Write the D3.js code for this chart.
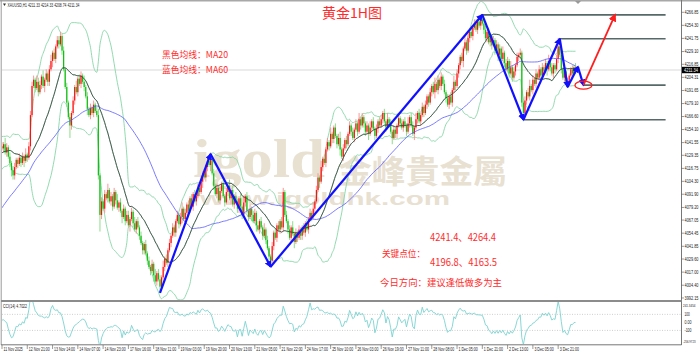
<!DOCTYPE html>
<html lang="zh">
<head>
<meta charset="UTF-8">
<title>黄金1H图</title>
<script src="https://d3js.org/d3.v7.min.js"></script>
<style>
  * { margin: 0; padding: 0 }
  body { background: #fff; }
  svg { display: block; }
</style>
</head>
<body>
<div id="main"></div>
<script>
// 左侧不可见的前置收盘价 (用于计算 MA60 / 布林带起点)
const priorCloses = [
  4002, 3998, 4005, 4010, 4003, 3996, 4001, 4008, 4004, 4000, 4006, 4012, 4009, 4003, 4007, 4011, 4005, 4000, 4004, 4009,
  4030, 4052, 4068, 4075, 4082, 4078, 4090, 4098, 4094, 4102, 4108, 4105, 4112, 4110, 4116, 4113, 4108, 4115, 4120, 4118,
  4112, 4118, 4125, 4130, 4122, 4116, 4128, 4135, 4140, 4132, 4126, 4138, 4145, 4140, 4133, 4128, 4124, 4136, 4142, 4138
];

// 1H 收盘价
const closes = [
  4136, 4140, 4132, 4137, 4128, 4122, 4115, 4110, 4118, 4125,
  4121, 4127, 4122, 4128, 4124, 4130, 4127, 4138, 4168, 4196,
  4202, 4194, 4200, 4190, 4197, 4205, 4196, 4202, 4208, 4200,
  4212, 4220, 4228, 4222, 4234, 4240, 4236, 4244, 4230, 4212,
  4195, 4180, 4166, 4158, 4170, 4182, 4195, 4190, 4203, 4198,
  4206, 4200, 4195, 4186, 4174, 4168, 4175, 4170, 4178, 4172,
  4168, 4110, 4072, 4085, 4078, 4092, 4088, 4096, 4085, 4090,
  4080, 4094, 4086, 4079, 4084, 4076, 4070, 4078, 4066, 4072,
  4062, 4068, 4075, 4064, 4058, 4066, 4060, 4052, 4045, 4038,
  4044, 4035, 4028, 4022, 4018, 4025, 4014, 4008, 4016, 4010,
  4003, 4012, 4022, 4030, 4026, 4038, 4045, 4052, 4060, 4055,
  4066, 4072, 4063, 4070, 4078, 4068, 4074, 4082, 4076, 4088,
  4080, 4092, 4085, 4090, 4098, 4094, 4104, 4112, 4108, 4118,
  4124, 4120, 4126, 4112, 4100, 4092, 4098, 4086, 4095, 4102,
  4090, 4084, 4094, 4100, 4088, 4096, 4082, 4090, 4085, 4078,
  4088, 4080, 4072, 4084, 4090, 4076, 4070, 4078, 4072, 4066,
  4074, 4062, 4058, 4066, 4060, 4052, 4058, 4048, 4040, 4032,
  4028, 4042, 4055, 4050, 4062, 4058, 4066, 4060, 4094, 4072,
  4066, 4058, 4050, 4060, 4054, 4046, 4055, 4050, 4058, 4052,
  4060, 4055, 4064, 4058, 4068, 4074, 4070, 4078, 4085, 4096,
  4108, 4104, 4118, 4126, 4122, 4135, 4142, 4138, 4150, 4145,
  4156, 4148, 4140, 4146, 4135, 4128, 4136, 4144, 4140, 4150,
  4158, 4152, 4146, 4154, 4160, 4152, 4164, 4158, 4166, 4160,
  4152, 4158, 4150, 4156, 4162, 4155, 4148, 4155, 4162, 4158,
  4164, 4170, 4162, 4156, 4164, 4160, 4152, 4146, 4154, 4150,
  4158, 4165, 4160, 4156, 4162, 4158, 4152, 4160, 4166, 4158,
  4150, 4156, 4164, 4170, 4162, 4168, 4176, 4170, 4178, 4186,
  4180, 4190, 4196, 4190, 4198, 4192, 4202, 4196, 4205, 4198,
  4190, 4184, 4178, 4186, 4180, 4192, 4200, 4196, 4208, 4216,
  4224, 4220, 4232, 4238, 4230, 4242, 4248, 4244, 4252, 4256,
  4250, 4258, 4254, 4260, 4256, 4250, 4242, 4248, 4238, 4244,
  4235, 4240, 4230, 4236, 4226, 4232, 4222, 4228, 4218, 4212,
  4220, 4208, 4214, 4204, 4210, 4216, 4224, 4226, 4228, 4180,
  4170, 4182, 4190, 4186, 4196, 4192, 4202, 4198, 4208, 4204,
  4212, 4206, 4214, 4210, 4218, 4212, 4220, 4214, 4208, 4216,
  4212, 4222, 4234, 4226, 4212, 4204, 4210, 4200, 4198, 4206,
  4212, 4208, 4214, 4211.34
];

// 上/下影线长度 (每位数字 × 2 美元)
const upWicks = [
  "2132121221", "1212131222", "2132213121", "2312122212", "1212121312", "2131212121",
  "2312121312", "1213121212", "2121312121", "1212121312", "2131212121", "1212312121",
  "2121213121", "1230212121", "2121312121", "1213121212", "2121213121", "1212121221",
  "2121312121", "1212121312", "2131212131", "1212312121", "2121213121", "1213121212",
  "2121312121", "1212121312", "2131212121", "1212312121", "2121213121", "1213121212",
  "2121222121", "1212121312", "2131212121", "1212312121", "2121213121", "1241212121", "1212"
].join('');
const dnWicks = [
  "1212123221", "2121312121", "1212121312", "2131212121", "1216212121", "2121312121",
  "1282121212", "2121213121", "1312121212", "2121213121", "3212121212", "2121312121",
  "1212121312", "2131212121", "1212131212", "2121212131", "1312121212", "3121212121",
  "1212131212", "2121212121", "1312121212", "2121312121", "1212121212", "2131212121",
  "1212121312", "2121212121", "1312121212", "2121312121", "1212121212", "2131212121",
  "1212121212", "2121312121", "1212121212", "4121212121", "1212131212", "2121212121", "1212"
].join('');

const priceTicks = ["4266.85", "4254.30", "4241.75", "4229.10", "4216.85", "4204.31", "4191.65", "4179.10",
  "4166.60", "4154.10", "4141.55", "4129.35", "4116.75", "4104.30", "4091.90", "4079.20", "4067.05",
  "4054.45", "4041.85", "4029.60", "4017.00", "4004.40", "3992.15"];
const timeLabels = ["11 Nov 2025", "12 Nov 21:00", "13 Nov 14:00", "14 Nov 07:00", "14 Nov 23:00", "17 Nov 16:00",
  "18 Nov 11:00", "19 Nov 03:00", "19 Nov 20:00", "20 Nov 13:00", "21 Nov 05:00", "21 Nov 22:00", "24 Nov 17:00",
  "25 Nov 10:00", "26 Nov 03:00", "26 Nov 19:00", "27 Nov 11:00", "28 Nov 08:00", "1 Dec 05:00", "1 Dec 21:00",
  "2 Dec 13:00", "3 Dec 05:00", "3 Dec 21:00"];
const cciTicks = [241.3454, 100, 0, -100, -256.9723];

// 蓝色走势线顶点 [bar, price]
const zigzag = [[100, 3997], [132, 4130.6], [170, 4022.2], [304, 4264.4], [330, 4163.5],
  [353, 4241.4], [358, 4195], [364.5, 4214.5], [368, 4196.8]];
// 关键水平位 [price, 起点 bar]
const keyLevels = [[4264.4, 304], [4241.4, 353], [4196.8, 368], [4163.5, 330]];
const forecast = [[368, 4196.8], [388, 4264.4]];
const lastPrice = 4211.34;

const W = 700, H = 353;
const svg = d3.select('#main').append('svg').attr('width', W).attr('height', H);
const defs = svg.append('defs');
defs.append('clipPath').attr('id', 'mainClip').append('rect')
  .attr('x', 2).attr('y', 1).attr('width', 679).attr('height', 299);
defs.append('clipPath').attr('id', 'cciClip').append('rect')
  .attr('x', 2).attr('y', 302).attr('width', 679).attr('height', 42);

function marker(id, color, size) {
  defs.append('marker').attr('id', id).attr('viewBox', '0 0 10 10')
    .attr('refX', 8).attr('refY', 5).attr('markerWidth', size).attr('markerHeight', size)
    .attr('markerUnits', 'userSpaceOnUse').attr('orient', 'auto')
    .append('path').attr('d', 'M0,0 L10,5 L0,10 z').attr('fill', color);
}
marker('blueHead', '#1010ff', 7);
marker('redHead', '#ff1e1e', 8);

const x = d3.scaleLinear().domain([0, 430]).range([2, 681.4]);
const y = d3.scaleLinear().domain([3990.2, 4277.7]).range([300, 1]);
const yc = d3.scaleLinear().domain([-256.9723, 241.3454]).range([343, 303]);

// 蜡烛
const bars = closes.map((c, i) => {
  const o = i === 0 ? priorCloses[priorCloses.length - 1] : closes[i - 1];
  const h = Math.max(o, c) + (+upWicks[i] || 0) * 2;
  const l = Math.min(o, c) - (+dnWicks[i] || 0) * 2;
  return { i, o, h, l, c };
});

// 指标
const all = priorCloses.concat(closes);
const off = priorCloses.length;
function sma(arr, n, k) { return d3.mean(arr.slice(k - n + 1, k + 1)); }
function pstd(arr, n, k) {
  const s = arr.slice(k - n + 1, k + 1), m = d3.mean(s);
  return Math.sqrt(d3.mean(s, v => (v - m) * (v - m)));
}
const ind = closes.map((c, i) => {
  const k = i + off;
  const m20 = sma(all, 20, k), sd = pstd(all, 20, k);
  return { i, ma20: m20, ma60: sma(all, 60, k), up: m20 + 2 * sd, dn: m20 - 2 * sd };
});
const tp = priorCloses.concat(bars.map(b => (b.h + b.l + b.c) / 3));
const cci = closes.map((c, i) => {
  const k = i + off;
  const s = tp.slice(k - 13, k + 1), m = d3.mean(s);
  const md = d3.mean(s, v => Math.abs(v - m));
  return { i, v: (tp[k] - m) / (0.015 * md) };
});

// 水印
const wm = svg.append('g').attr('fill', '#e8e0d1');
wm.append('text').attr('x', 193).attr('y', 177).attr('font-family', 'Liberation Serif')
  .attr('font-weight', 'bold').attr('font-size', 54).attr('textLength', 132)
  .attr('lengthAdjust', 'spacingAndGlyphs').text('igold');
wm.append('text').attr('x', 338).attr('y', 183).attr('font-family', 'Noto Sans CJK TC')
  .attr('font-weight', 'bold').attr('font-size', 32).attr('textLength', 169)
  .attr('lengthAdjust', 'spacingAndGlyphs').text('金峰貴金屬');
wm.append('text').attr('x', 200).attr('y', 205).attr('font-family', 'Liberation Sans')
  .attr('font-weight', 'bold').attr('font-size', 19).attr('textLength', 250)
  .attr('lengthAdjust', 'spacingAndGlyphs').text('www.igoldhk.com');

const plot = svg.append('g').attr('clip-path', 'url(#mainClip)');

// 现价线
plot.append('line').attr('x1', 2).attr('x2', 681).attr('y1', y(lastPrice)).attr('y2', y(lastPrice))
  .attr('stroke', '#cfcfcf').attr('stroke-width', 0.8);

const line = (acc) => d3.line().x(d => x(d.i)).y(d => y(acc(d))).curve(d3.curveMonotoneX);
plot.append('path').datum(ind).attr('d', line(d => d.up)).attr('fill', 'none').attr('stroke', '#86d6a6').attr('stroke-width', 0.9);
plot.append('path').datum(ind).attr('d', line(d => d.dn)).attr('fill', 'none').attr('stroke', '#86d6a6').attr('stroke-width', 0.9);
plot.append('path').datum(ind).attr('d', line(d => d.ma20)).attr('fill', 'none').attr('stroke', '#86d6a6').attr('stroke-width', 0.9);

// 蜡烛绘制
const cg = plot.append('g');
cg.selectAll('line.wick').data(bars).enter().append('line').attr('class', 'wick')
  .attr('x1', d => x(d.i)).attr('x2', d => x(d.i)).attr('y1', d => y(d.h)).attr('y2', d => y(d.l))
  .attr('stroke', d => d.c >= d.o ? '#ff8a8a' : '#7fd87f').attr('stroke-width', 0.9);
cg.selectAll('rect.body').data(bars).enter().append('rect').attr('class', 'body')
  .attr('x', d => x(d.i) - 0.6).attr('width', 1.2)
  .attr('y', d => y(Math.max(d.o, d.c)))
  .attr('height', d => Math.max(0.8, Math.abs(y(d.o) - y(d.c))))
  .attr('fill', d => d.c >= d.o ? '#ff1010' : '#10c010');

plot.append('path').datum(ind).attr('d', line(d => d.ma60)).attr('fill', 'none').attr('stroke', '#5a5aff').attr('stroke-width', 0.8);
plot.append('path').datum(ind).attr('d', line(d => d.ma20)).attr('fill', 'none').attr('stroke', '#3a3a3a').attr('stroke-width', 0.8);

// 关键水平线
plot.selectAll('line.level').data(keyLevels).enter().append('line').attr('class', 'level')
  .attr('x1', d => x(d[1])).attr('x2', x(420)).attr('y1', d => y(d[0])).attr('y2', d => y(d[0]))
  .attr('stroke', '#566868').attr('stroke-width', 1.6);

// 蓝色走势线
const segs = d3.pairs(zigzag);
plot.selectAll('line.zz').data(segs).enter().append('line').attr('class', 'zz')
  .attr('x1', d => x(d[0][0])).attr('y1', d => y(d[0][1]))
  .attr('x2', d => x(d[1][0])).attr('y2', d => y(d[1][1]))
  .attr('stroke', '#1010ff').attr('stroke-width', 2.2).attr('marker-end', 'url(#blueHead)');

// 红色预测箭头 + 圈
plot.append('line').attr('x1', x(forecast[0][0])).attr('y1', y(forecast[0][1]))
  .attr('x2', x(forecast[1][0])).attr('y2', y(forecast[1][1]))
  .attr('stroke', '#ff1e1e').attr('stroke-width', 1.8).attr('marker-end', 'url(#redHead)');
plot.append('ellipse').attr('cx', x(forecast[0][0])).attr('cy', y(forecast[0][1]))
  .attr('rx', 8.5).attr('ry', 4).attr('fill', 'none').attr('stroke', '#ff1e1e').attr('stroke-width', 1.3);

// CCI 子图
const cg2 = svg.append('g').attr('clip-path', 'url(#cciClip)');
[100, -100].forEach(v => {
  cg2.append('line').attr('x1', 2).attr('x2', 681).attr('y1', yc(v)).attr('y2', yc(v))
    .attr('stroke', '#b8b8b8').attr('stroke-width', 0.7).attr('stroke-dasharray', '1,1.5');
});
cg2.append('path').datum(cci)
  .attr('d', d3.line().x(d => x(d.i)).y(d => yc(d.v)))
  .attr('fill', 'none').attr('stroke', '#7ad3d0').attr('stroke-width', 0.9);

// 边框
const frame = svg.append('g').attr('fill', 'none');
frame.append('line').attr('x1', 0).attr('x2', 700).attr('y1', 0.8).attr('y2', 0.8).attr('stroke', '#a8a8a8').attr('stroke-width', 1.6);
frame.append('line').attr('x1', 1.2).attr('x2', 1.2).attr('y1', 0).attr('y2', 345).attr('stroke', '#9a9a9a').attr('stroke-width', 1);
frame.append('line').attr('x1', 681.5).attr('x2', 681.5).attr('y1', 0).attr('y2', 345).attr('stroke', '#777').attr('stroke-width', 1);
frame.append('line').attr('x1', 1).attr('x2', 681.5).attr('y1', 301).attr('y2', 301).attr('stroke', '#8c8c8c').attr('stroke-width', 1.8);
frame.append('line').attr('x1', 1).attr('x2', 681.5).attr('y1', 344.8).attr('y2', 344.8).attr('stroke', '#777').attr('stroke-width', 1);
svg.append('path').attr('d', 'M575,1 L581,1 L578,4 z').attr('fill', '#999');

// 价格轴
const ax = svg.append('g').attr('font-family', 'Liberation Sans').attr('font-size', 4.6).attr('fill', '#222');
priceTicks.forEach(t => {
  const yy = y(parseFloat(t));
  ax.append('line').attr('x1', 681.5).attr('x2', 684).attr('y1', yy).attr('y2', yy).attr('stroke', '#555').attr('stroke-width', 0.6);
  ax.append('text').attr('x', 684.5).attr('y', yy + 1.6).attr('textLength', 14)
    .attr('lengthAdjust', 'spacingAndGlyphs').text(t);
});
ax.append('rect').attr('x', 682).attr('y', y(lastPrice) - 3.2).attr('width', 18).attr('height', 6.4).attr('fill', '#000');
ax.append('text').attr('x', 684).attr('y', y(lastPrice) + 1.6).attr('fill', '#fff').attr('textLength', 14)
  .attr('lengthAdjust', 'spacingAndGlyphs').text(lastPrice.toFixed(2));
cciTicks.forEach((v, k) => {
  let yy = yc(v);
  if (k === 0) yy = 305;
  if (k === cciTicks.length - 1) yy = 341.2;
  const label = Number.isInteger(v) ? (v === 0 ? '0.00' : String(v)) : v.toFixed(4);
  const long = label.length > 6;
  ax.append('text').attr('x', long ? 683 : 684.5).attr('y', yy + 1.6)
    .attr('font-size', long ? 4 : 4.6)
    .attr('textLength', long ? 12.5 : label.length * 1.75)
    .attr('lengthAdjust', 'spacingAndGlyphs').text(label);
});

// 时间轴
const tx = svg.append('g').attr('font-family', 'Liberation Sans').attr('font-size', 4.6).attr('fill', '#222');
timeLabels.forEach((t, k) => {
  const xx = x(k * 16);
  tx.append('line').attr('x1', xx).attr('x2', xx).attr('y1', 345).attr('y2', 349).attr('stroke', '#555').attr('stroke-width', 0.6);
  tx.append('text').attr('x', xx + 1.5).attr('y', 350.5).attr('textLength', t.length * 1.75)
    .attr('lengthAdjust', 'spacingAndGlyphs').text(t);
});

// 顶部信息
svg.append('path').attr('d', 'M3,3.5 L6,3.5 L4.5,6 z').attr('fill', '#333');
svg.append('text').attr('x', 7.5).attr('y', 7).attr('font-family', 'Liberation Sans').attr('font-size', 4.6)
  .attr('fill', '#222').attr('textLength', 72).attr('lengthAdjust', 'spacingAndGlyphs')
  .text('XAUUSD,H1  4211.33 4214.33 4208.74 4211.34');
svg.append('text').attr('x', 3).attr('y', 308).attr('font-family', 'Liberation Sans').attr('font-size', 4.6)
  .attr('fill', '#222').attr('textLength', 24).attr('lengthAdjust', 'spacingAndGlyphs').text('CCI(14) 4.7022');

// 文字标注
const red = '#ff2b2b';
const note = (txt, xx, yy, size, len) => svg.append('text').attr('x', xx).attr('y', yy)
  .attr('font-family', 'Noto Sans CJK SC').attr('font-size', size).attr('fill', red)
  .attr('textLength', len).attr('lengthAdjust', 'spacingAndGlyphs').text(txt);
note('黄金1H图', 322, 18, 13.5, 60);
note('黑色均线：MA20', 162, 57.5, 9, 66);
note('蓝色均线：MA60', 162, 72.5, 9, 66);
note('4241.4、4264.4', 430, 241, 10.5, 66);
note('关键点位：', 382, 257, 9, 43);
note('4196.8、4163.5', 430, 266, 10.5, 67);
note('今日方向：建议逢低做多为主', 380, 286, 9, 122);
</script>
</body>
</html>
